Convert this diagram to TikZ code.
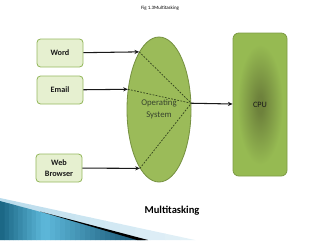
\documentclass[tikz,border=0pt]{standalone}
\usepackage{fontspec}
\setmainfont{Carlito}
\usepackage{tikz}
\usetikzlibrary{shapes.geometric, arrows.meta, positioning}
\definecolor{mydark}{RGB}{25,25,25}
\definecolor{boxfill}{RGB}{230,240,208}
\definecolor{boxline}{RGB}{150,185,95}
\definecolor{osgreen}{RGB}{155,187,89}
\definecolor{osline}{RGB}{118,145,65}
\definecolor{osfont}{RGB}{56,68,46}
\definecolor{dashgreen}{RGB}{50,66,28}
\definecolor{cpudark}{RGB}{110,130,60}
\definecolor{cpugreen}{RGB}{150,186,82}
\definecolor{cpuline}{RGB}{125,155,68}
\definecolor{swooshpale}{RGB}{186,220,236}
\definecolor{swooshdark}{RGB}{28,104,134}
\definecolor{swooshmid}{RGB}{92,182,216}
\definecolor{swooshdeep}{RGB}{14,72,102}
\pgfdeclareradialshading{cpuglow}{\pgfpoint{0bp}{0bp}}{color(0bp)=(cpudark); color(3bp)=(cpudark); color(21bp)=(cpugreen); color(50bp)=(cpugreen)}
\tikzset{
  taskbox/.style={rectangle, draw=boxline, fill=boxfill,
    minimum width=1.38cm, minimum height=0.84cm, align=center,
    font=\fontsize{7}{9.4}\selectfont\bfseries, text=mydark,
    rounded corners=3pt, line width=0.7pt},
  osshape/.style={ellipse, draw=osline, fill=osgreen, inner sep=0pt,
    minimum width=1.92cm, minimum height=4.35cm, align=center,
    font=\fontsize{7.5}{10}\selectfont, text=osfont, line width=0.7pt},
  cpubox/.style={rectangle, draw=cpuline, shade, shading=cpuglow,
    minimum width=1.62cm, minimum height=4.29cm,
    font=\fontsize{7}{8}\selectfont, text=mydark,
    rounded corners=5pt, line width=0.7pt},
  arrow/.style={-{Stealth[length=4pt, width=3.5pt]}, line width=0.9pt, color=mydark},
  dashline/.style={dash pattern=on 1.5pt off 1.2pt, line width=0.6pt, color=dashgreen}
}
\begin{document}
\begin{tikzpicture}[x=0.03cm, y=-0.03cm]
  % Fixed page size
  \useasboundingbox (0,0) rectangle (320,240);

  % Slide decoration in the lower left corner
  \foreach \i in {0,...,12} {
    \pgfmathtruncatemacro{\p}{\i*5}
    \fill[white!\p!swooshpale] ({\i*15},{198+0.2154*\i*15}) -- ({\i*15+15.5},{198+0.2154*(\i*15+15.5)}) -- ({\i*15+15.5},240) -- ({\i*15},240) -- cycle;
  }
  \foreach \i in {0,...,9} {
    \pgfmathtruncatemacro{\p}{\i*11}
    \fill[swooshmid!\p!swooshdark] ({\i*4.5},{201+0.269*\i*4.5}) -- ({\i*4.5+4.8},{201+0.269*(\i*4.5+4.8)}) -- ({\i*4.5+4.8},240) -- ({\i*4.5},240) -- cycle;
  }
  \foreach \i in {0,...,19} {
    \pgfmathtruncatemacro{\p}{\i*5}
    \fill[swooshdeep!\p!swooshmid] ({45+\i*5},{201+0.269*(45+\i*5)}) -- ({50.3+\i*5},{201+0.269*(50.3+\i*5)}) -- ({50.3+\i*5},240) -- ({45+\i*5},240) -- cycle;
  }
  \fill[black] (40,211.5) -- (148,240) -- (137,240) -- cycle;

  % Titles
  \node[font=\fontsize{4.2}{5}\selectfont] (title) at (160,8) {Fig 1.3Multitasking};
  \node[font=\fontsize{9}{11}\selectfont\bfseries] (caption) at (172,211) {Multitasking};

  % Tasks, operating system and CPU
  \node[taskbox] (word) at (60,53) {Word};
  \node[taskbox] (email) at (60,90) {Email};
  \node[taskbox] (web) at (59,168) {Web\\Browser};
  \node[osshape] (os) at (159,109.5) {Operating\\System};
  \node[cpubox] (cpu) at (260,104.5) {CPU};
  \coordinate (hub) at (os.11.5);

  % Tasks enter the operating system
  \draw[arrow] (word) -- (os.109.5);
  \draw[arrow] (email) -- (os.147.7);
  \draw[arrow] (web) -- (os.252.1);

  % Time slices meet at one point
  \draw[dashline] (os.109.5) -- (hub);
  \draw[dashline] (os.147.7) -- (hub);
  \draw[dashline] (os.252.1) -- (hub);

  % Operating system hands over to the CPU
  \draw[arrow] (hub) -- (cpu);
\end{tikzpicture}
\end{document}
